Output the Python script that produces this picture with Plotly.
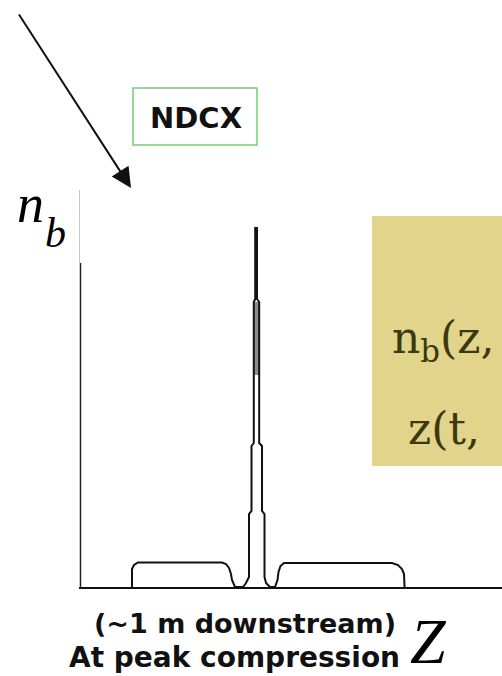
import plotly.graph_objects as go

# ---- data (z position, beam density n_b), arbitrary units ----
profile_z = [12.32, 12.32, 12.80, 13.74, 33.65, 34.60, 35.31, 35.78, 36.02, 36.73,
             38.63, 39.34, 39.93, 40.05, 40.05, 40.64, 40.64, 41.18, 41.18, 41.52,
             41.52, 41.94, 41.94, 42.46, 42.46, 43.13, 43.13, 43.72, 43.72, 44.08,
             45.02, 46.21, 46.80, 47.04, 47.51, 48.34, 73.93, 75.36, 76.30, 76.78, 76.90]
profile_nb = [0.00, 4.53, 5.54, 6.17, 6.17, 5.79, 4.79, 3.27, 1.76, 0.00,
              0.00, 1.01, 2.27, 2.52, 18.39, 19.14, 35.52, 36.27, 71.79, 72.54,
              90.43, 90.43, 72.54, 71.79, 36.27, 35.52, 19.14, 18.39, 2.52, 1.01,
              0.00, 0.00, 1.76, 3.78, 5.29, 6.05, 6.05, 5.54, 4.53, 3.27, 0.00]

band_z = [41.18, 42.46, 42.46, 41.18]
band_nb = [53.40, 53.40, 71.79, 71.79]

frame_z = [0, 0]
frame_nb = [0, 81.6]

# ---- geometry helpers (pixel -> paper) ----
W, H = 502, 676
ML, MR, MT, MB = 80, 0, 190, 89
PW, PH = W - ML - MR, H - MT - MB


def px(x):
    return (x - ML) / PW


def py(y):
    return (H - MB - y) / PH


fig = go.Figure()
fig.add_trace(go.Scatter(x=band_z, y=band_nb, fill="toself", fillcolor="#8c8c8c",
                         line=dict(width=0), mode="lines", hoverinfo="skip"))
fig.add_trace(go.Scatter(x=profile_z, y=profile_nb, mode="lines",
                         line=dict(color="#111111", width=2), hoverinfo="skip"))
fig.add_trace(go.Scatter(x=frame_z, y=frame_nb, mode="lines",
                         line=dict(color="#222222", width=2.5), hoverinfo="skip"))

shapes = [
    dict(type="rect", xref="paper", yref="paper", x0=px(133), x1=px(257),
         y0=py(145), y1=py(88), line=dict(color="#72d072", width=1.5),
         fillcolor="rgba(0,0,0,0)"),
    dict(type="rect", xref="paper", yref="paper", x0=px(372), x1=px(520),
         y0=py(466), y1=py(216), line=dict(width=0), fillcolor="#e2d48a",
         layer="below"),
]

serif = "Liberation Serif"
wserif = "DejaVu Serif"
sans = "DejaVu Sans"
olive = "#3b390e"


def label(x, y, text, family, size, color, xanchor="center"):
    return dict(xref="paper", yref="paper", x=px(x), y=py(y), text=text,
                xanchor=xanchor, yanchor="middle", showarrow=False,
                font=dict(family=family, size=size, color=color))


annotations = [
    dict(xref="paper", yref="paper", x=px(131), y=py(188), ax=-113, ay=-175,
         text="", showarrow=True, arrowhead=2, arrowsize=2.0, arrowwidth=2,
         arrowcolor="#111111"),
    label(196, 118, "<b>NDCX</b>", sans, 29, "#111111"),
    label(30, 204, "<i>n</i>", serif, 54, "#000000"),
    label(55, 233, "<i>b</i>", serif, 42, "#000000"),
    label(390, 340, "n<sub>b</sub>(z,", wserif, 44, olive, "left"),
    label(406, 428, "z(t,", wserif, 44, olive, "left"),
    label(398, 623, "<b>(~1 m downstream)</b>", sans, 27, "#111111", "right"),
    label(402, 657, "<b>At peak compression</b>", sans, 28, "#111111", "right"),
    label(428, 641, "<i>Z</i>", serif, 64, "#000000"),
]

fig.update_layout(
    width=W, height=H,
    margin=dict(l=ML, r=MR, t=MT, b=MB, pad=0),
    paper_bgcolor="white", plot_bgcolor="white",
    showlegend=False, hovermode=False,
    shapes=shapes, annotations=annotations,
    xaxis=dict(range=[0, 100], showgrid=False, zeroline=False, showticklabels=False,
               ticks="", showline=True, linecolor="#111111", linewidth=2),
    yaxis=dict(range=[0, 100], showgrid=False, zeroline=False, showticklabels=False,
               ticks="", showline=True, linecolor="#c8c8c8", linewidth=1),
)

fig.write_html(
    "out.html",
    config={"displayModeBar": False},
    post_script="document.body.style.margin='0';document.body.style.overflow='hidden';",
)
